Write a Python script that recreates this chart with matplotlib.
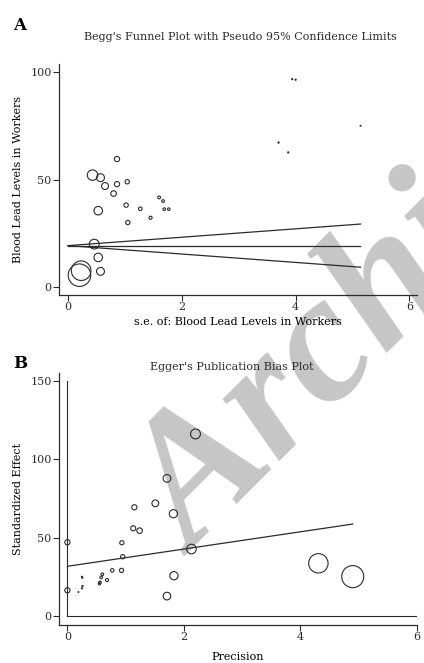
import matplotlib
matplotlib.use("Agg")
import matplotlib.pyplot as plt
import numpy as np

plt.rcParams["font.family"] = ["DejaVu Serif"]

# Begg's funnel: standard error vs blood lead level per study
se_a = [0.20, 0.23, 0.46, 0.53, 0.57, 0.53, 0.43, 0.57, 0.65, 0.80, 0.86, 0.86, 1.04,
        1.02, 1.05, 1.27, 1.45, 1.60, 1.67, 1.69, 1.77, 3.70, 3.87, 3.94, 4.00, 5.14]
eff_a = [5.4, 7.5, 19.9, 13.7, 7.2, 35.5, 52.1, 50.9, 47.0, 43.5, 47.9, 59.6, 49.0,
         38.1, 30.0, 36.4, 32.2, 41.7, 40.0, 36.2, 36.2, 67.3, 62.7, 96.9, 96.6, 75.1]
pooled = 19.2

# Egger: precision vs standardized effect
prec_b = [4.31, 4.90, 2.20, 1.71, 1.51, 1.82, 2.13, 1.83, 1.71, 1.15, 1.13, 1.24, 0.935,
          0.95, 0.93, 0.77, 0.68, 0.60, 0.58, 0.56, 0.55, 0.25, 0.255, 0.26, 0.25, 0.19]
std_b = [33.6, 25.1, 116.0, 87.7, 71.8, 65.2, 42.7, 25.7, 12.7, 69.3, 55.9, 54.4, 46.7,
         37.8, 29.1, 29.1, 22.9, 26.6, 24.6, 21.5, 20.6, 25.0, 24.4, 19.1, 17.7, 15.3]
egger_icpt = 31.7
egger_slope = 5.49
egger_ci = [47.0, 16.4]

xticks = [0, 2, 4, 6]
yticks_a = [0, 50, 100]
yticks_b = [0, 50, 100, 150]

ink = "#2b2b2b"

fig = plt.figure(figsize=(4.24, 6.63), dpi=100)

# watermark behind everything
fig.text(0.457, 0.161, "Archive of SID", rotation=45, rotation_mode="anchor",
         fontsize=132, color="#c6c6c6", fontweight="bold", fontstyle="italic",
         family="Liberation Serif", ha="left", va="baseline", zorder=-5)


def style(ax, yticks):
    ax.patch.set_alpha(0)
    for s in ["top", "right"]:
        ax.spines[s].set_visible(False)
    for s in ["left", "bottom"]:
        ax.spines[s].set_color(ink)
        ax.spines[s].set_linewidth(0.9)
    ax.set_xticks(xticks)
    ax.set_yticks(yticks)
    ax.tick_params(colors=ink, labelsize=8, length=4, width=0.8, pad=1.5)


# Panel A
axa = fig.add_axes([0.140, 0.5555, 0.843, 0.3475])
se = np.array(se_a)
axa.scatter(se, eff_a, s=10.5 / se**2, facecolors="none", edgecolors=ink, linewidths=0.8)
se_line = np.array([0, se.max()])
axa.plot(se_line, [pooled, pooled], color=ink, lw=0.9)
axa.plot(se_line, pooled + 1.96 * se_line, color=ink, lw=0.9)
axa.plot(se_line, pooled - 1.96 * se_line, color=ink, lw=0.9)
axa.set_xlim(-0.153, 6.13)
axa.set_ylim(-3.7, 103.8)
style(axa, yticks_a)
axa.set_xlabel("s.e. of: Blood Lead Levels in Workers", fontsize=8, labelpad=3)
axa.set_ylabel("Blood Lead Levels in Workers", fontsize=8, labelpad=5)
fig.text(0.566, 0.944, "Begg's Funnel Plot with Pseudo 95% Confidence Limits",
         fontsize=8, ha="center", va="center", color=ink)
fig.text(0.03, 0.962, "A", fontsize=12, fontweight="bold", ha="left", va="center")

# Panel B
axb = fig.add_axes([0.140, 0.0578, 0.843, 0.380])
pr = np.array(prec_b)
axb.plot([0, 0], [0, 150], color=ink, lw=0.8)
axb.plot([0, 6], [0, 0], color=ink, lw=0.8)
axb.scatter(pr, std_b, s=10.5 * pr**2, facecolors="none", edgecolors=ink, linewidths=0.8)
pr_line = np.array([0, pr.max()])
axb.plot(pr_line, egger_icpt + egger_slope * pr_line, color=ink, lw=0.9)
axb.scatter([0, 0], egger_ci, s=14, facecolors="none", edgecolors=ink, linewidths=0.8)
axb.set_xlim(-0.138, 6.0)
axb.set_ylim(-5.5, 155)
style(axb, yticks_b)
axb.set_xlabel("Precision", fontsize=8, labelpad=7)
axb.set_ylabel("Standardized Effect", fontsize=8, labelpad=5)
fig.text(0.547, 0.446, "Egger's Publication Bias Plot",
         fontsize=8, ha="center", va="center", color=ink)
fig.text(0.03, 0.451, "B", fontsize=12, fontweight="bold", ha="left", va="center")

fig.savefig("out.png", dpi=100)
